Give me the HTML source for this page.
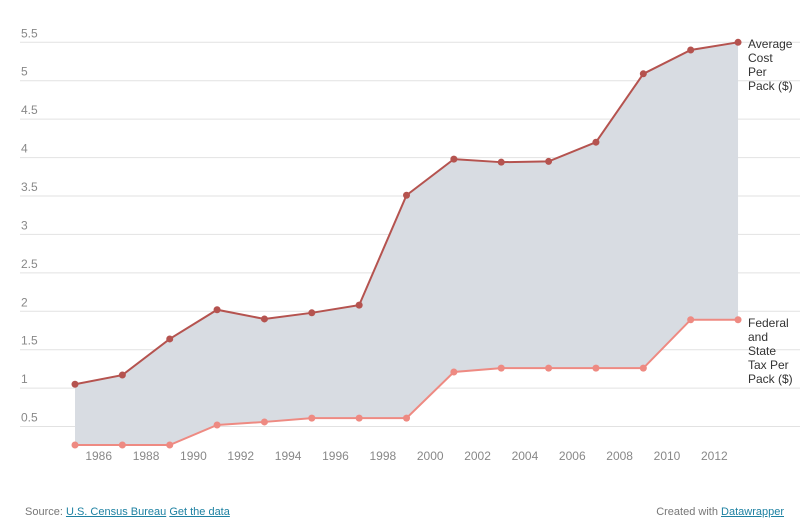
<!DOCTYPE html>
<html><head><meta charset="utf-8"><style>
body{margin:0;width:811px;height:529px;background:#fff;font-family:"Liberation Sans",Arial,sans-serif;overflow:hidden}
svg{position:absolute;left:0;top:0}
.foot{position:absolute;top:506px;font-size:11px;color:#777}
.foot a{color:#1d81a2;text-decoration:underline}
</style></head><body>
<svg id="chart" width="811" height="529"></svg>
<div class="foot" style="left:25px">Source: <a>U.S. Census Bureau</a> <a>Get the data</a></div>
<div class="foot" style="right:27px">Created with <a>Datawrapper</a></div>
<script>
const years=[1985,1987,1989,1991,1993,1995,1997,1999,2001,2003,2005,2007,2009,2011,2013];
const avgCost=[1.05,1.17,1.64,2.02,1.90,1.98,2.08,3.51,3.98,3.94,3.95,4.20,5.09,5.40,5.50];
const taxPerPack=[0.26,0.26,0.26,0.52,0.56,0.61,0.61,0.61,1.21,1.26,1.26,1.26,1.26,1.89,1.89];
const yTicks=[0.5,1,1.5,2,2.5,3,3.5,4,4.5,5,5.5];
const yTickLabels=["0.5","1","1.5","2","2.5","3","3.5","4","4.5","5","5.5"];
const xTicks=[1986,1988,1990,1992,1994,1996,1998,2000,2002,2004,2006,2008,2010,2012];

const NS="http://www.w3.org/2000/svg";
const svg=document.getElementById('chart');
const X=yr=>75+(yr-1985)*23.68;
const Y=v=>42.3+(5.5-v)*76.85;
function mk(tag,attrs){const e=document.createElementNS(NS,tag);for(const k in attrs)e.setAttribute(k,attrs[k]);svg.appendChild(e);return e;}

yTicks.forEach((t,i)=>{
  const g=mk('line',{x1:20,x2:800,y1:Y(t),y2:Y(t),stroke:'#e2e2e2','stroke-width':1});
  
  
  const tx=mk('text',{x:21,y:Y(t)-5,'font-size':12,fill:'#888'});
  tx.textContent=yTickLabels[i];
  
  
});
xTicks.forEach(yr=>{
  const tx=mk('text',{x:X(yr),y:460,'font-size':12,fill:'#888','text-anchor':'middle'});
  tx.textContent=yr;
  
  
});
let d=years.map((y,i)=>(i?'L':'M')+X(y)+','+Y(avgCost[i])).join('');
for(let i=years.length-1;i>=0;i--)d+='L'+X(years[i])+','+Y(taxPerPack[i]);
const area=mk('path',{d:d+'Z',fill:'#d8dce2'});



function series(vals,color,name){
  const p=mk('path',{d:years.map((y,i)=>(i?'L':'M')+X(y)+','+Y(vals[i])).join(''),fill:'none',stroke:color,'stroke-width':2});
  
  
  years.forEach((y,i)=>{
    const c=mk('circle',{cx:X(y),cy:Y(vals[i]),r:3.5,fill:color});
    
    
  });
}
series(avgCost,'#b5534f','avg-cost');
series(taxPerPack,'#ee8a82','tax');

function label(lines,y0,name){
  const t=mk('text',{x:748,y:y0,'font-size':12,fill:'#333'});
  
  
  lines.forEach((l,i)=>{const s=document.createElementNS(NS,'tspan');s.setAttribute('x',748);s.setAttribute('y',y0+i*14);s.textContent=l;t.appendChild(s);});
}
label(['Average','Cost','Per','Pack ($)'],48,'avg-cost-label');
label(['Federal','and','State','Tax Per','Pack ($)'],327,'tax-label');
</script>
</body></html>
